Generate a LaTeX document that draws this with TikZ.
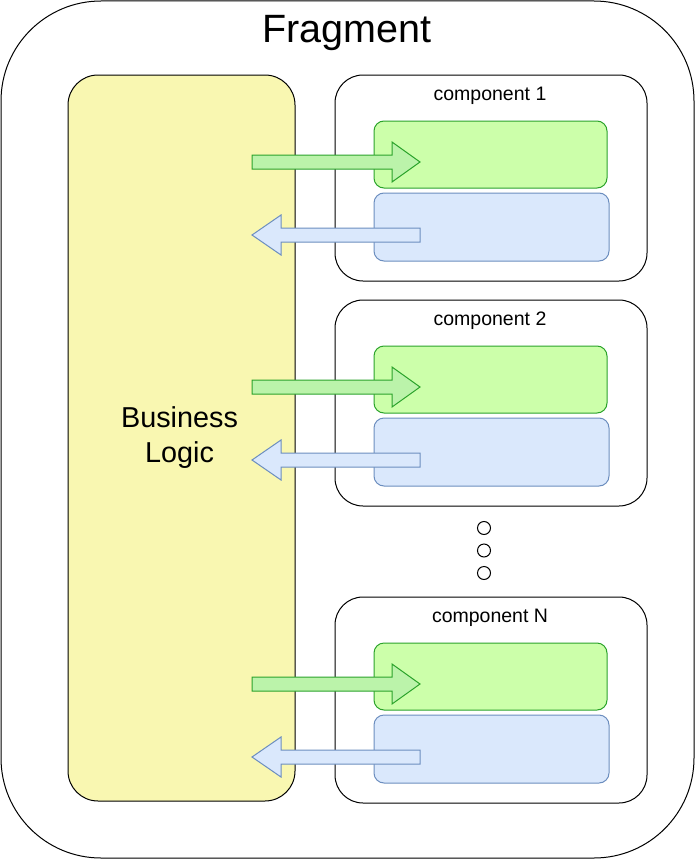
\documentclass[tikz,border=0pt]{standalone}
\usepackage{fontspec}
\setmainfont{Liberation Sans}
\definecolor{bizfill}{HTML}{F9F7B1}
\definecolor{grnfill}{HTML}{CCFFAA}
\definecolor{grnarrow}{HTML}{BBF3AA}
\definecolor{grnline}{HTML}{2BA32B}
\definecolor{blufill}{HTML}{DAE8FC}
\definecolor{bluline}{HTML}{6C8EBF}
\tikzset{
  outerbox/.style={draw=black, line width=1pt, rounded corners=100pt, inner sep=0pt, fill=white},
  bizbox/.style={draw=black, line width=1pt, rounded corners=30pt, fill=bizfill, inner sep=0pt},
  compbox/.style={draw=black, line width=1pt, rounded corners=28pt, fill=white, inner sep=0pt},
  inbox/.style={draw=grnline, line width=1pt, rounded corners=10pt, fill=grnfill, inner sep=0pt},
  outbox/.style={draw=bluline, line width=1pt, rounded corners=10pt, fill=blufill, inner sep=0pt},
  inarrow/.style={draw=grnline, line width=1pt, fill=grnarrow, line join=miter},
  outarrow/.style={draw=bluline, line width=1pt, fill=blufill, line join=miter},
  comptext/.style={font=\fontsize{19.5}{23}\selectfont, anchor=base, inner sep=0pt},
  dotcirc/.style={circle, draw=black, line width=1pt, fill=white, minimum size=13pt, inner sep=0pt},
}
\begin{document}
\begin{tikzpicture}[x=1pt,y=-1pt]
\useasboundingbox (0,0) rectangle (695,859);
\node[outerbox, minimum width=693pt, minimum height=857pt] (frag) at (347.5,429.5) {};
\node[font=\fontsize{39.5}{47}\selectfont, anchor=base, inner sep=0pt] (fragtxt) at (347,43) {Fragment};
\node[bizbox, minimum width=227pt, minimum height=726pt] (biz) at (181.5,438) {};
\foreach \nm/\dy in {1/0, 2/225, N/522}{
  \begin{scope}[shift={(0,\dy)}, name prefix=c\nm-]
    \node[compbox, minimum width=312pt, minimum height=206pt] (box) at (491,178) {};
    \node[comptext] (title) at (490,100) {component \nm};
    \node[inbox, minimum width=233pt, minimum height=67pt] (in) at (490.5,154.5) {};
    \node[outbox, minimum width=235pt, minimum height=68pt] (out) at (491.5,227) {};
    \draw[inarrow] (252,155) -- (392,155) -- (392,142) -- (420,162) -- (392,182) -- (392,169) -- (252,169) -- cycle;
    \draw[outarrow] (252,235) -- (281,215) -- (281,228) -- (420,228) -- (420,242) -- (281,242) -- (281,255) -- cycle;
  \end{scope}
}
\node[font=\fontsize{28.8}{35}\selectfont, align=center, inner sep=0pt] (biztxt) at (179.5,438) {Business\\Logic};
\node[dotcirc] (d1) at (484,528) {};
\node[dotcirc] (d2) at (484,550.5) {};
\node[dotcirc] (d3) at (484,573) {};
\end{tikzpicture}
\end{document}
